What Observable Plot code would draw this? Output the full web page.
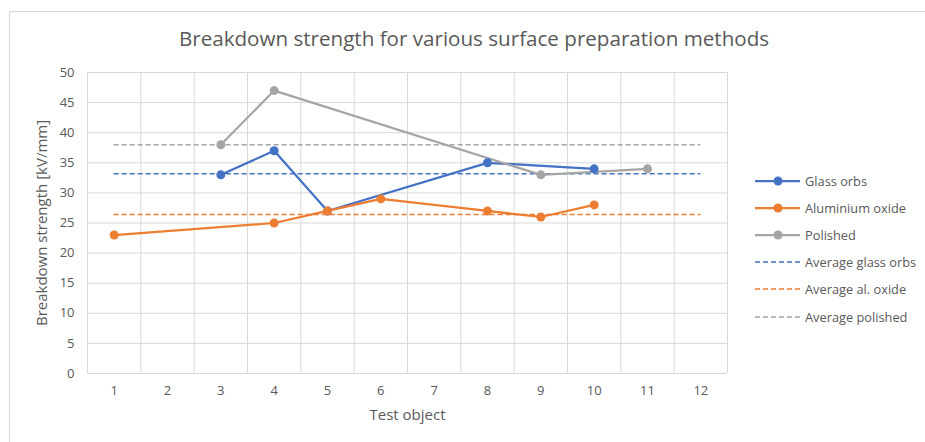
<!DOCTYPE html>
<html>
<head>
<meta charset="utf-8">
<script src="https://cdn.jsdelivr.net/npm/d3@7"></script>
<script src="https://cdn.jsdelivr.net/npm/@observablehq/plot@0.6"></script>
<style>
  html, body { margin: 0; padding: 0; background: #fff; }
  #wrap { position: relative; width: 925px; height: 442px; overflow: hidden; font-family: "Open Sans", sans-serif; }
  #border { position: absolute; left: 9px; top: 11px; width: 940px; height: 460px; border: 1px solid #d9d9d9; box-sizing: border-box; }
  #title { position: absolute; left: 87px; width: 774px; top: 24px; text-align: center; font-size: 20.6px; color: #595959; }
  #chart { position: absolute; left: 0; top: 0; }
  #legend { position: absolute; left: 755px; top: 167px; font-size: 12.8px; color: #595959; }
  .item { height: 27.2px; display: flex; align-items: center; }
  .item svg { margin-right: 3px; }
</style>
</head>
<body>
<div id="wrap">
  <div id="border"></div>
  <div id="chart"></div>
  <div id="title">Breakdown strength for various surface preparation methods</div>
  <div id="legend"></div>
</div>
<script>
const categories = [1, 2, 3, 4, 5, 6, 7, 8, 9, 10, 11, 12];
const glassOrbs      = [null, null, 33, 37, 27, null, null, 35, null, 34, null, null];
const aluminiumOxide = [23, null, null, 25, 27, 29, null, 27, 26, 28, null, null];
const polished       = [null, null, 38, 47, null, null, null, null, 33, null, 34, null];
const seriesNames = ["Glass orbs", "Aluminium oxide", "Polished"];
const averageNames = ["Average glass orbs", "Average al. oxide", "Average polished"];
const colors = ["#4472C4", "#ED7D31", "#A5A5A5"];
const yTicks = [0, 5, 10, 15, 20, 25, 30, 35, 40, 45, 50];

const seriesValues = [glassOrbs, aluminiumOxide, polished];
const rows = [];
seriesValues.forEach((vals, k) => {
  categories.forEach((c, i) => {
    if (vals[i] != null) rows.push({x: c, y: vals[i], s: seriesNames[k]});
  });
});
const avgRows = seriesValues.map((vals, k) => ({
  s: seriesNames[k],
  v: d3.mean(vals.filter(v => v != null))
}));
const boundaries = [categories[0] - 0.5, ...categories.map(c => c + 0.5)];
const first = categories[0], last = categories[categories.length - 1];

const chart = Plot.plot({
  width: 925,
  height: 442,
  marginLeft: 87,
  marginRight: 198,
  marginTop: 72,
  marginBottom: 69,
  style: {fontFamily: "Open Sans, sans-serif", fontSize: "13px", color: "#595959", background: "transparent"},
  x: {domain: [first - 0.5, last + 0.5]},
  y: {domain: [0, 50]},
  color: {domain: seriesNames, range: colors},
  marks: [
    Plot.gridY(yTicks, {stroke: "#d9d9d9", strokeOpacity: 1, strokeWidth: 1}),
    Plot.ruleX(boundaries, {stroke: "#d9d9d9", strokeWidth: 1}),
    Plot.axisY({ticks: yTicks, tickSize: 0, tickPadding: 13, fill: "#595959", fontSize: 13, label: null}),
    Plot.axisY({ticks: [], tickSize: 0, fill: "#595959", fontSize: 15,
      label: "Breakdown strength [kV/mm]", labelAnchor: "center", labelArrow: "none", labelOffset: 51}),
    Plot.axisX({ticks: categories, tickSize: 0, tickPadding: 12, fill: "#595959", fontSize: 13, label: null}),
    Plot.axisX({ticks: [], tickSize: 0, fill: "#595959", fontSize: 15,
      label: "Test object", labelAnchor: "center", labelArrow: "none", labelOffset: 46}),
    Plot.ruleY(avgRows, {y: "v", x1: first, x2: last, stroke: "s", strokeWidth: 1.5, strokeDasharray: "5,3"}),
    Plot.line(rows, {x: "x", y: "y", z: "s", stroke: "s", strokeWidth: 2.25}),
    Plot.dot(rows, {x: "x", y: "y", fill: "s", r: 4.5})
  ]
});
document.getElementById("chart").appendChild(chart);

const legend = document.getElementById("legend");
const addItem = (name, color, dashed) => {
  const div = document.createElement("div");
  div.className = "item";
  const ns = "http://www.w3.org/2000/svg";
  const svg = document.createElementNS(ns, "svg");
  svg.setAttribute("width", 47); svg.setAttribute("height", 12);
  const ln = document.createElementNS(ns, "line");
  ln.setAttribute("x1", 0); ln.setAttribute("x2", 45); ln.setAttribute("y1", 6); ln.setAttribute("y2", 6);
  ln.setAttribute("stroke", color);
  ln.setAttribute("stroke-width", dashed ? 1.5 : 2.25);
  if (dashed) ln.setAttribute("stroke-dasharray", "5,3");
  svg.appendChild(ln);
  if (!dashed) {
    const c = document.createElementNS(ns, "circle");
    c.setAttribute("cx", 23); c.setAttribute("cy", 6); c.setAttribute("r", 4.5); c.setAttribute("fill", color);
    svg.appendChild(c);
  }
  div.appendChild(svg);
  const span = document.createElement("span");
  span.textContent = name;
  div.appendChild(span);
  legend.appendChild(div);
};
seriesNames.forEach((n, k) => addItem(n, colors[k], false));
averageNames.forEach((n, k) => addItem(n, colors[k], true));
</script>
</body>
</html>
